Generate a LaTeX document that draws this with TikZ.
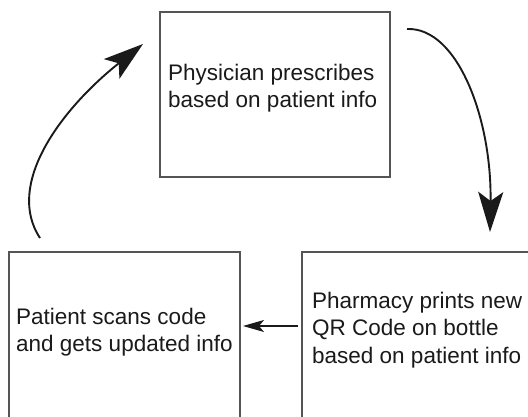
\documentclass[tikz,border=0pt]{standalone}
\usepackage{fontspec}
\setmainfont{Liberation Sans}
\usetikzlibrary{arrows.meta}
\definecolor{boxgray}{HTML}{555555}
\definecolor{inkdark}{HTML}{1A1A1A}
\tikzset{
  stagebox/.style={draw=boxgray, line width=1.5pt, rectangle, inner sep=0pt, outer sep=0pt},
  stagetext/.style={font=\fontsize{22.5}{27.5}\selectfont, text=inkdark, align=left, inner sep=0pt, anchor=west},
  cyclearrow/.style={draw=inkdark, line width=1.9pt, -{Stealth[length=40pt,width=25pt,inset=9pt]}},
  steparrow/.style={draw=inkdark, line width=1.1pt, -{Stealth[length=21pt,width=12pt,inset=5pt]}}
}
\begin{document}
\begin{tikzpicture}[x=1pt,y=-1pt]
\useasboundingbox (0,0) rectangle (528,417);
\fill[white] (0,0) rectangle (528,417);
\clip (0,0) rectangle (528,417);
% boxes
\node[stagebox, minimum width=230pt, minimum height=165pt] (top) at (275,94.5) {};
\node[stagebox, minimum width=231pt, minimum height=178pt] (lbox) at (124.5,341) {};
\node[stagebox, minimum width=238pt, minimum height=178pt] (rbox) at (421,341) {};
% texts
\node[stagetext] (ttop) at (168,88) {Physician prescribes\\based on patient info};
\node[stagetext] (tl) at (16,332) {Patient scans code\\and gets updated info};
\node[stagetext] (tr) at (312,330) {Pharmacy prints new\\QR Code on bottle\\based on patient info};
% connectors
\coordinate (rstart) at (407,29);
\coordinate (rend) at (490,232);
\coordinate (lstart) at (40,238);
\coordinate (lend) at (143,44);
\coordinate (mid) at (0,326);
\draw[cyclearrow] (rstart) .. controls (458,27) and (492,120) .. (rend);
\draw[cyclearrow] (lstart) .. controls (5,185) and (60,110) .. (lend);
\draw[steparrow, shorten <=4pt, shorten >=3pt] (rbox.west |- mid) -- (lbox.east |- mid);
\end{tikzpicture}
\end{document}
